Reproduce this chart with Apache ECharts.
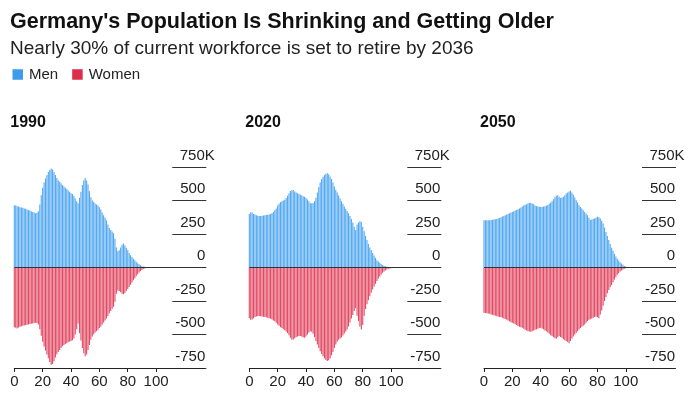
<!DOCTYPE html>
<html>
<head>
<meta charset="utf-8">
<script src="https://cdn.jsdelivr.net/npm/echarts@6/dist/echarts.min.js"></script>
<style>
html,body{margin:0;padding:0;background:#fff;}
#chart{width:700px;height:394px;}
</style>
</head>
<body>
<div id="chart"></div>
<script>
// Ages 0..100
const ages = [];
for (let a = 0; a <= 100; a++) ages.push(a);

const years = ['1990', '2020', '2050'];
const xTicks = [0, 20, 40, 60, 80, 100];
const yTicks = [-750, -500, -250, 0, 250, 500, 750];

// Population in thousands, by single year of age
const men1990 = [462,465,458,455,450,448,445,440,438,432,428,425,420,415,410,405,408,420,470,540,
595,635,665,690,712,728,738,732,712,690,668,652,640,628,615,605,595,585,575,565,
555,548,535,515,495,480,520,565,615,650,668,650,620,570,525,500,488,478,470,462,
450,432,410,390,372,352,320,295,280,268,255,215,150,122,128,150,170,178,165,148,
128,108,92,78,66,54,42,32,24,17,12,8,5,4,3,2,1,1,1,0,0];
const women1990 = [445,450,455,448,442,438,435,432,430,428,425,422,420,418,415,412,415,425,460,510,
555,590,620,650,678,705,725,720,700,672,648,630,615,600,588,578,570,565,558,552,
548,542,530,500,460,418,490,545,600,640,662,650,615,578,540,515,498,485,475,465,
452,440,425,410,395,380,362,342,325,308,292,255,195,172,175,185,195,200,190,175,
160,145,128,112,96,80,65,50,38,27,18,11,7,4,3,2,1,1,0,0,0];
const men2020 = [400,412,410,400,395,390,386,384,384,386,388,390,392,394,396,400,405,415,428,440,
462,475,488,495,500,505,518,535,555,570,576,578,568,560,555,548,542,538,532,528,
518,508,495,482,478,482,495,520,560,600,635,660,678,690,700,703,695,680,660,635,
605,580,560,538,515,495,475,455,438,422,405,385,362,335,305,280,320,335,345,340,
305,270,235,205,175,150,128,108,90,72,55,45,35,27,19,13,9,6,4,3,2];
const women2020 = [378,390,388,378,370,365,362,362,363,365,368,370,372,375,378,382,388,395,402,412,
425,435,445,452,460,468,478,488,505,525,538,538,528,520,515,512,512,515,520,524,
515,500,485,475,480,495,520,548,575,600,625,645,662,678,690,698,692,678,655,630,
600,575,555,540,530,522,508,492,478,462,440,410,380,355,325,305,360,400,440,462,
430,360,310,275,245,215,188,165,142,122,100,82,68,52,40,30,22,15,10,7,5];
const men2050 = [352,352,352,352,353,354,356,358,360,362,366,370,375,380,385,390,395,400,405,410,
415,420,425,430,435,440,448,455,462,468,472,478,482,484,478,472,462,458,456,455,
452,452,455,458,462,466,475,485,495,510,525,535,540,528,518,522,528,540,552,560,
568,574,560,542,522,502,485,465,452,440,428,415,402,390,372,355,358,362,366,372,
378,375,365,348,328,298,265,235,205,175,148,125,102,82,65,52,40,30,20,12,7];
const women2050 = [338,340,342,344,346,350,353,356,360,363,366,369,372,375,380,385,390,396,402,408,
412,418,424,430,436,442,446,450,458,465,470,475,478,480,476,470,465,462,458,452,
450,455,462,470,475,485,495,505,512,520,528,532,520,512,518,525,535,542,548,556,
565,548,530,515,500,488,475,462,452,442,435,425,412,400,392,385,380,375,370,365,
372,378,350,320,285,250,220,192,168,148,130,110,90,72,55,42,30,22,14,9,6];

const menByYear = [men1990, men2020, men2050];
const womenByYear = [women1990, women2020, women2050];

const FONT = "'Liberation Sans', Arial, sans-serif";
const BLUE = '#52a8f2';
const RED = '#e24a64';

const panelLeft = [14.3, 249.3, 484];
const gridTop = 167, gridH = 201, barW = 190, labW = 34, labOff = 158;

const grid = [], xAxis = [], yAxis = [], series = [];
const title = [
  {text: "Germany's Population Is Shrinking and Getting Older", left: 10, top: 11, padding: 0,
   textStyle: {fontFamily: FONT, fontSize: 21.5, fontWeight: 'bold', color: '#111'}},
  {text: 'Nearly 30% of current workforce is set to retire by 2036', left: 10, top: 39, padding: 0,
   textStyle: {fontFamily: FONT, fontSize: 19, fontWeight: 'normal', color: '#222'}}
];

years.forEach((yr, i) => {
  const L = panelLeft[i];
  title.push({text: yr, left: L - 4, top: 115, padding: 0,
    textStyle: {fontFamily: FONT, fontSize: 16, fontWeight: 'bold', color: '#111'}});
  // bars grid
  grid.push({left: L, top: gridTop, width: barW, height: gridH});
  // label / gridline grid
  grid.push({left: L + labOff, top: gridTop, width: labW, height: gridH});
  xAxis.push({
    gridIndex: 2 * i, type: 'value', min: 0, max: 134, position: 'bottom',
    axisLine: {show: true, onZero: false, lineStyle: {color: '#222', width: 1}},
    axisTick: {show: true, length: 4, customValues: xTicks, lineStyle: {color: '#222'}},
    axisLabel: {customValues: xTicks, fontFamily: FONT, fontSize: 15, color: '#222', margin: 6},
    splitLine: {show: false}
  });
  xAxis.push({gridIndex: 2 * i + 1, type: 'value', show: false, min: 0, max: 1});
  // bars y axis: only shows the top "750K" label, whose K hangs past the other labels
  yAxis.push({
    gridIndex: 2 * i, type: 'value', min: -750, max: 750, position: 'right',
    axisLine: {show: false}, axisTick: {show: false}, splitLine: {show: false},
    axisLabel: {
      inside: true, customValues: [750], margin: -10.5, verticalAlign: 'bottom', padding: [0, 0, 4, 0],
      fontFamily: FONT, fontSize: 15, color: '#222', formatter: v => v + 'K'
    }
  });
  yAxis.push({
    gridIndex: 2 * i + 1, type: 'value', min: -750, max: 750, interval: 250, position: 'right',
    axisLine: {show: false}, axisTick: {show: false},
    splitLine: {show: true, lineStyle: {color: '#333', width: 1}},
    axisLabel: {
      inside: true, margin: 1, verticalAlign: 'bottom', padding: [0, 0, 4, 0],
      fontFamily: FONT, fontSize: 15, color: '#222',
      formatter: v => v === 750 ? '' : String(v)
    }
  });
  series.push({
    type: 'bar', name: 'Men', xAxisIndex: 2 * i, yAxisIndex: 2 * i,
    data: ages.map((a, j) => [a, menByYear[i][j]]),
    itemStyle: {color: BLUE}, barGap: '-100%', barCategoryGap: '22%', silent: true,
    markLine: {silent: true, symbol: 'none', label: {show: false},
      lineStyle: {color: '#333', type: 'solid', width: 1}, data: [{yAxis: 0}]}
  });
  series.push({
    type: 'bar', name: 'Women', xAxisIndex: 2 * i, yAxisIndex: 2 * i,
    data: ages.map((a, j) => [a, -womenByYear[i][j]]),
    itemStyle: {color: RED}, barGap: '-100%', barCategoryGap: '22%', silent: true
  });
});

const chart = echarts.init(document.getElementById('chart'), null, {renderer: 'canvas'});
chart.setOption({
  animation: false,
  backgroundColor: '#fff',
  title: title,
  legend: {
    left: 12.5, top: 67, padding: 0, itemWidth: 10.5, itemHeight: 10.5, itemGap: 14,
    icon: 'rect', selectedMode: false,
    data: [{name: 'Men', itemStyle: {color: '#3d9be9'}}, {name: 'Women', itemStyle: {color: '#dc2d4b'}}],
    textStyle: {fontFamily: FONT, fontSize: 15, color: '#222', padding: [0, 0, 0, 1]}
  },
  grid: grid, xAxis: xAxis, yAxis: yAxis, series: series
});
</script>
</body>
</html>
